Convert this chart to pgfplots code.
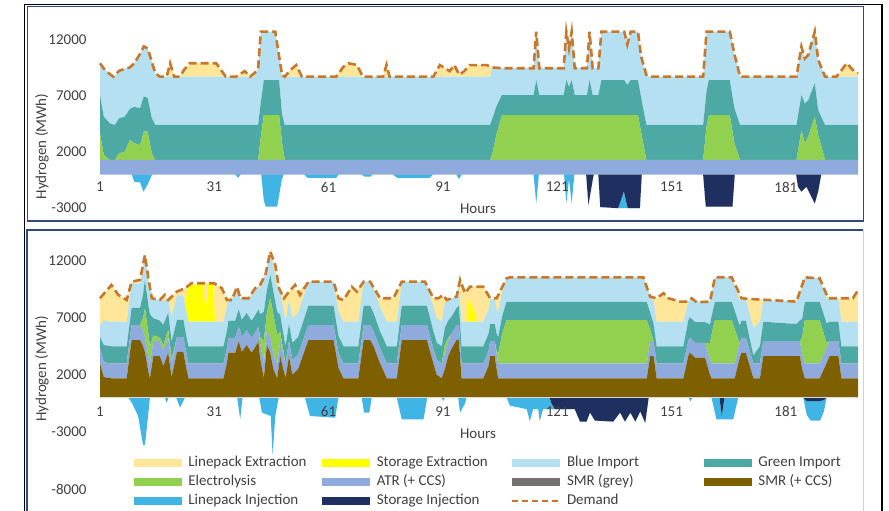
\documentclass[border=0pt]{standalone}
\usepackage{fontspec}
\setmainfont{Carlito}
\usepackage{pgfplots}
\usepackage{pgfplotstable}
\pgfplotsset{compat=1.18}

\definecolor{cLPE}{HTML}{FFE699}
\definecolor{cSE}{HTML}{FFFF00}
\definecolor{cBI}{HTML}{B4E0F2}
\definecolor{cGI}{HTML}{4DA9A4}
\definecolor{cEL}{HTML}{92D050}
\definecolor{cATR}{HTML}{8FAADC}
\definecolor{cSMRg}{HTML}{767171}
\definecolor{cSMR}{HTML}{7F6000}
\definecolor{cLPI}{HTML}{41B4E6}
\definecolor{cSI}{HTML}{1F3060}
\definecolor{cDem}{HTML}{C8782C}
\definecolor{labc}{HTML}{404040}
\definecolor{frm}{HTML}{2F4A80}

\newcommand{\lblfont}{\fontsize{15}{18}\selectfont}

% ---------------- top panel data ----------------
\pgfplotstableread{
h atr el gi bi lpe
1 1280 2370 3400 2820 0
2 1280 440 3400 4280 0
3.6 1280 0 3250 4370 0
4.9 1280 0 3110 4290 0
6 1280 590 3110 4220 0
7.5 1280 740 3100 4250 0
8.8 1280 1770 2750 3700 0
10 1280 1500 3220 3870 0
11.5 1280 1300 3290 4830 0
12.5 1280 2510 3130 4440 0
13.5 1280 2510 3010 4400 0
14.6 1280 590 3130 5000 0
15.5 1280 0 3110 4610 0
16.7 1280 0 3110 4290 0
18.5 1280 0 3110 4290 0
19.4 1280 0 3110 4290 1190
20.5 1280 0 3110 4290 0
22 1280 0 3110 4290 0
23 1280 0 3110 4290 580
24.5 1280 0 3110 4290 1190
31.5 1280 0 3110 4290 1190
34 1280 0 3110 4290 0
36.7 1280 0 3110 4290 0
39 1280 0 3110 4290 490
40.4 1280 0 3110 4290 0
41.5 1280 0 3110 4290 300
42.5 1280 0 3110 5000 0
43.2 1280 2000 3110 6290 0
44 1280 3990 3110 4300 0
47 1280 3990 3110 4300 0
48 1280 3990 3110 2120 0
48.8 1280 1500 2500 3500 0
49.5 1280 0 3110 4290 0
51 1280 0 3110 4290 590
52.5 1280 0 3110 4290 1030
54 1280 0 3110 4290 0
63 1280 0 3110 4290 0
64.9 1280 0 3110 4290 880
66.2 1280 0 3110 4290 1190
68.4 1280 0 3110 4290 1040
70 1280 0 3110 4290 0
75.3 1280 0 3110 4290 0
76.2 1280 0 3110 4290 1040
77 1280 0 3110 4290 0
88.5 1280 0 3110 4290 0
90.2 1280 0 3110 4290 1030
92.8 1280 0 3110 4290 490
94 1280 0 3110 4290 1030
95.3 1280 0 3110 4290 150
96.6 1280 0 3110 4290 490
98 1280 0 3110 4290 1030
102.5 1280 0 3110 4290 1030
103.4 1280 0 3110 4290 880
104 1280 600 3110 4510 0
105 1280 2170 2550 3450 0
106.5 1280 3990 1780 2380 0
114.8 1280 3990 1780 2380 0
115.5 1280 3990 3110 4300 0
116.3 1280 3990 1780 2380 0
122.7 1280 3990 1780 2380 0
123.4 1280 3990 3110 4300 0
124.1 1280 3990 2500 3430 0
124.8 1280 3990 3110 4300 0
125.6 1280 3990 1780 2380 0
128.8 1280 3990 1780 2380 0
129.5 1280 3990 3110 4300 0
130.3 1280 3990 1780 2380 0
131.8 1280 3990 1780 2380 0
132.6 1280 3990 3110 4300 0
138.6 1280 3990 3110 4300 0
139.4 1280 3990 2670 3600 0
140.3 1280 3990 3110 4300 0
142.2 1280 3990 3110 4300 0
143 1280 2500 3110 3610 0
144.4 1280 0 3110 4290 150
145.3 1280 0 3110 4290 0
159.3 1280 0 3110 4290 0
160.2 1280 3000 3110 5290 0
160.8 1280 3990 3110 4300 0
166.3 1280 3990 3110 4300 0
167.5 1280 1500 3110 4810 0
169 1280 0 3110 4290 0
183.8 1280 0 3110 4290 0
185.1 1280 2670 3100 4290 0
186 1280 1480 3540 4000 0
186.9 1280 2080 3240 4000 0
188.6 1280 3850 2960 4590 0
189.5 1280 2220 2200 4470 0
191.3 1280 0 3110 4290 0
194.3 1280 0 3110 4290 0
197 1280 0 3110 4290 1190
199 1280 0 3110 4290 450
200 1280 0 3110 4290 320
}\topPos

\pgfplotstableread{
h si lpi
1 0 0
9.3 0 0
10 0 -650
11.5 0 -700
12.4 0 -1540
13.5 0 -900
14.7 0 0
36.5 0 0
37.2 0 -300
38 0 0
43.3 0 0
44 0 -2300
44.5 0 -2870
47.5 0 -2870
48.7 0 -500
49.2 0 0
54.5 0 0
55.5 0 -300
63 0 -300
63.7 0 0
69.5 0 0
70.5 0 -200
72 0 -200
72.6 0 0
77.8 0 0
79 0 -300
87.5 0 -300
88.5 0 0
94.5 0 0
95.2 0 -400
96 0 0
114.8 0 0
115.5 0 -2560
116.2 0 0
122.8 0 0
123.4 0 -2560
124.1 0 -400
124.8 0 -2560
125.5 0 0
128.6 0 0
129.2 -2700 0
130.3 -500 0
130.6 0 0
131.8 0 0
132.3 -2900 0
137 -3000 0
138.5 -1500 -1500
139.5 -3000 0
142.7 -3000 0
143.2 0 0
159.3 0 0
160 -2870 0
167 -2870 0
167.6 0 0
183.7 0 0
184.2 -1090 0
185.1 -1540 0
186.4 -1090 0
188.6 -2570 0
189.5 -1500 0
190.3 0 0
200 0 0
}\topNeg

\pgfplotstableread{
h d
1 9870
2 9400
3.6 8900
4.5 8680
6 9200
7.5 9370
8.8 9500
10 9870
11.5 10700
12.5 11360
13.5 11200
14.6 10000
15.5 9000
16.7 8680
18.5 8680
19.4 9870
20.5 8680
22 8680
23 9260
24.5 9870
31.5 9870
34 8680
36.7 8680
39 9170
40.4 8680
41.5 8980
42.5 9390
43.2 12680
47 12680
48 10500
48.8 8780
49.5 8680
51 9270
52.5 9710
54 8680
63 8680
64.9 9560
66.2 9870
68.4 9720
70 8680
75.3 8680
76.2 9720
77 8680
88.5 8680
90.2 9710
92.8 9170
94 9710
95.3 8830
96.6 9170
98 9710
102.5 9710
103.4 9560
104 9500
106.5 9430
114.8 9430
115.5 12680
116.3 9430
122.7 9430
123.4 12680
124.1 11200
124.8 12680
125.6 9430
128.8 9430
129.5 12680
130.3 9430
131.8 9430
132.6 12680
138.6 12680
139.4 11540
140.3 12680
142.2 12680
143 10500
144.4 8830
145.3 8680
159.3 8680
160.2 12680
166.3 12680
167.5 10700
169 8680
183.8 8680
185.1 11340
186 10300
186.9 10600
188.6 12680
189.5 10170
191.3 8680
194.3 8680
197 9870
199 9130
200 9000
}\topDem

% ---------------- bottom panel data ----------------
\pgfplotstableread{
h smr atr el gi bi se lpe
1 3000 1300 0 1000 1000 0 2390
2 1800 1300 0 1500 2150 0 2330
4 1690 1300 0 1500 2150 0 3210
5.8 1690 1300 0 1500 2150 0 2340
8 1690 1300 0 1500 2150 0 1900
9.3 5040 1300 0 1500 2150 0 150
11.5 5040 1300 0 1500 2150 0 300
12.3 4500 1300 1200 2000 2150 0 480
12.8 4000 1300 2500 2500 2170 0 0
13.7 2270 1300 2000 2500 2150 0 210
14.1 1690 1300 1500 2800 2370 0 0
15 3640 1300 500 1500 1720 0 0
16.7 3640 1300 300 1500 1800 0 0
17.6 2770 1300 500 1800 2150 0 325
18.9 3930 1300 700 1500 1110 0 0
19.8 1800 1300 300 1500 2150 0 1776
21.2 4000 1300 0 1500 2150 0 320
22.9 4000 1300 0 1500 2150 0 555
23.3 3200 1300 0 1500 2150 0 1410
24.2 1690 1300 0 1500 2150 3153 0
28 1690 1300 0 1500 2150 3360 0
28.7 1690 1300 0 1500 2150 1000 2360
29.4 1690 1300 0 1500 2150 3360 0
30.7 1690 1300 0 1500 2150 3360 0
31.2 1690 1300 0 1500 2150 0 3316
33 1690 1300 0 1500 2150 0 2920
33.4 1690 1300 0 1500 2150 0 2606
34.3 3000 1300 0 1500 2150 0 590
34.7 3930 1300 0 1500 1810 0 0
36.5 3930 1300 0 1500 2150 0 406
37 4500 1300 0 1500 2150 0 250
37.4 4900 1300 0 1500 1495 0 0
37.8 4500 1300 0 1500 1390 0 0
38.2 4000 1300 0 1500 1890 0 0
39.5 4600 1300 0 1500 1290 0 0
40.8 3930 1300 0 1500 2150 0 219
41.7 4400 1300 0 1500 2150 0 210
42.6 4900 1300 0 1500 2061 0 0
43 3500 1300 500 2000 2150 0 400
44 1690 1300 2000 2500 2981 0 0
44.8 4600 1300 1500 2000 1948 0 0
45.7 3930 1300 3500 2000 2030 0 0
46.5 2500 1300 3500 2000 2150 0 596
47.5 1690 1300 2500 2000 2150 0 940
48.3 3640 1300 800 1500 2119 0 0
49.7 1690 1300 0 1500 2150 0 2228
50.6 3640 1300 0 1500 2150 0 680
51.5 2000 1300 0 1500 2150 0 2646
53 2500 1300 0 1500 2150 0 1865
55.7 5040 1300 0 1700 2100 0 0
62.3 5040 1300 0 1700 2100 0 0
63.6 2600 1300 0 1500 2150 0 1140
64.9 1690 1300 0 1500 2150 0 1900
67.1 1690 1300 0 1500 2150 0 3060
68.4 1690 1300 0 1500 2150 0 2630
68.8 1690 1300 0 1500 2150 0 2823
70.2 5040 1300 0 1700 2100 0 0
71.9 5040 1300 0 1700 2100 0 0
72.8 4500 1300 0 1600 2150 0 88
74.5 3000 1300 0 1500 2150 0 740
76.3 1690 1300 0 1500 2150 0 2050
78 1690 1300 0 1500 2150 0 2050
78.9 1690 1300 0 1500 2150 0 2643
80.2 5040 1300 0 1700 2100 0 0
86.3 5040 1300 0 1700 2100 0 0
86.8 5040 1300 0 1700 1770 0 0
88.5 3000 1300 0 1500 2150 0 740
89.4 2000 1300 0 1500 2150 0 1740
90.7 1690 1300 0 1500 2150 0 2251
91.5 2500 1300 800 1500 2150 0 534
92.4 3640 1300 300 1500 1846 0 0
93.3 4300 1300 0 1500 1590 0 0
94.6 5040 1300 0 1500 990 0 0
95.2 5040 1300 0 1700 1763 0 0
95.9 1690 1300 0 1500 2150 0 3293
96.8 1690 1300 0 1500 2150 0 2490
97.2 1690 1300 0 1500 2150 0 2665
97.5 1690 1300 0 1500 2150 2000 797
98.5 1690 1300 0 1500 2150 1500 1560
99.5 1690 1300 0 1500 2150 700 2360
100 1690 1300 0 1500 2150 0 3060
101.6 1690 1300 0 1500 2150 0 3060
103 2800 1300 0 1500 2150 0 1164
103.4 3640 1300 0 1500 2150 0 100
104.6 3640 1300 0 1500 2150 0 100
105.1 2500 1300 300 1500 2150 0 940
105.5 1690 1300 800 1500 2150 0 1518
106.5 1690 1300 2500 1550 2150 0 437
107.7 1690 1300 3790 1600 2050 0 0
108.6 1690 1300 3790 1600 2140 0 0
143.6 1690 1300 3790 1600 2140 0 0
144.5 1690 1300 3790 1600 1295 0 0
145.4 3640 1300 1000 1500 1390 0 0
146.3 3640 1300 0 1500 2150 0 166
147.1 1690 1300 0 1500 2150 0 2050
148.9 1690 1300 0 1500 2150 0 2490
150.2 1690 1300 0 1500 2150 0 2050
153.2 1690 1300 0 1500 2150 0 1760
154.1 1690 1300 0 1500 2150 0 1760
155.4 3640 1300 0 1800 1660 0 0
155.8 3930 1300 0 1800 1499 0 0
157.2 3500 1300 0 1800 1848 0 0
159.8 3500 1300 0 1800 1778 0 0
161.1 2000 1300 1500 1600 2000 0 0
161.5 1690 1300 2500 1600 1962 0 0
162.4 1690 1300 3790 1600 2140 0 0
166.8 1690 1300 3790 1600 2140 0 0
167.6 1690 1300 3000 1600 2150 0 217
168.9 3500 1300 0 1500 2150 0 592
169.4 3930 1300 0 1500 1960 0 0
170.5 3930 1300 0 1500 1930 0 0
172.5 1690 1300 0 700 2400 0 2523
174.2 1690 1300 0 1500 2150 0 1941
175.1 3640 1300 0 1700 1924 0 0
183.8 3640 1300 0 1500 1960 0 0
184.7 3640 1300 0 1800 2150 0 377
185.3 2500 1300 1500 1600 2945 0 0
186 1690 1300 3790 1600 2140 0 0
189.9 1690 1300 3790 1600 2050 0 0
191.7 3000 1300 500 1700 2150 0 356
192.5 3640 1300 0 1700 2050 0 0
194.8 3640 1300 0 1700 2050 0 0
195.6 1690 1300 0 1500 2150 0 2050
198.6 1690 1300 0 1500 2150 0 2050
200 1690 1300 0 1500 2150 0 2780
}\botPos

\pgfplotstableread{
h si lpi
1 0 0
8.4 0 0
9.3 0 -400
11 0 -1600
12.3 0 -4130
12.8 0 -4130
13.7 0 -1300
14.1 0 0
18 0 0
18.5 0 -440
19 0 0
21 0 0
22 0 -870
23.3 0 0
37 0 0
37.8 0 -1890
38.4 0 0
42.8 0 0
43.5 0 -1300
45.8 0 -1600
46.3 0 -5000
47 0 -1600
47.9 0 0
54.8 0 0
56.1 0 -1600
62.7 0 -1750
63.6 0 0
69.7 0 0
70.3 0 -1300
71.7 0 -1300
72.3 0 0
78.9 0 0
80.2 0 -1890
85.9 0 -1890
86.9 0 0
90.7 0 0
91.1 0 -300
91.5 0 0
95 0 0
95.5 0 -1300
96.8 0 -500
97.2 0 0
107.7 0 0
108.6 0 -700
113 0 -1000
113.8 0 -2040
114.7 0 -1000
116 0 -1000
116.4 0 -2040
117.3 0 -1000
119 0 -1000
119.5 -500 -500
120.4 -1000 0
125.6 -1000 0
127 -2090 0
128.7 -2090 0
129.6 -1300 0
130.9 -2000 0
135.7 -2090 0
137.5 -1300 0
138.8 -2090 0
140.2 -1300 0
141.5 -2090 0
142.8 -1200 0
144.1 -2200 0
145 0 0
155.5 0 0
156 0 -300
156.5 0 0
161.5 0 0
162.8 0 -1900
163.6 0 -1900
164.2 -1600 -300
164.9 0 -1900
167.2 0 -1900
168.5 0 0
185.6 0 0
186.5 -300 -1200
187.5 -300 -1700
190 -300 -1700
191 -200 -1000
191.7 0 0
200 0 0
}\botNeg

\pgfplotstableread{
h d
1 8690
4 9850
5.8 8980
8 8540
9.3 10140
11.5 10290
12.8 12470
13.7 10430
14.6 8690
16.7 8540
18 8980
18.9 8540
21.2 9270
23.3 9560
25 10000
31 10000
33 9560
34.3 8540
35.6 8540
37 9700
37.8 8690
40 8690
41.7 9560
43 9850
44.4 10720
45.7 12760
47 11600
48 9560
49.3 8690
50.6 9270
52.2 9850
53.5 8980
55.7 10140
62.3 10140
63.6 8690
64.9 8540
67.1 9700
68.4 9270
70.2 10140
71.9 10140
74.5 8690
78 8690
80.2 10140
86.3 10140
88.5 8690
89.8 8690
91.1 8980
92 8540
93.3 8690
94.6 8830
95.5 10290
96.8 9130
98.1 9700
101.6 9700
103.4 8690
105.1 8690
107.7 10430
108.6 10520
143.6 10520
145.4 8830
147.1 8690
148.9 9130
150.2 8690
153.2 8400
155.4 8400
156.3 8690
157.6 8340
161.1 8400
162.4 10520
166.8 10520
169.4 8690
171.6 8630
183.8 8400
186 10520
189.9 10430
192.1 8690
198.6 8690
200 9420
}\botDem

\pgfplotsset{
  panel/.style={scale only axis, width=758.19pt, xmin=1, xmax=200,
    anchor=south west, clip=false},
  stackaxis/.style={panel, hide axis, stack plots=y},
  ar/.style={draw=none, fill=#1, mark=none},
  sw/.style={legend image code/.code={\fill[#1] (0pt,-3.5pt) rectangle (47pt,3.5pt);}},
  dem/.style={color=cDem, line width=2.6pt, dash pattern=on 8pt off 4pt, mark=none},
  deco/.style={panel, axis x line*=middle, axis y line*=left,
    axis line style={draw=none}, tick style={draw=none}, major tick length=0pt,
    hide obscured x ticks=false, hide obscured y ticks=false,
    xtick={1,31,61,91,121,151,181}, xticklabels={1,31,61,91,121,151,181},
    scaled y ticks=false,
    tick label style={font=\lblfont, text=labc},
    yticklabel style={xshift=-10pt},
    xlabel={Hours}, ylabel={Hydrogen (MWh)},
    label style={font=\lblfont, text=labc}},
}

\begin{document}
\begin{tikzpicture}[x=1pt,y=1pt]
\path[use as bounding box] (0pt,0pt) rectangle (889pt,511pt);
\fill[white] (0pt,0pt) rectangle (889pt,511pt);

% ===== top panel =====
\begin{axis}[stackaxis, at={(100pt,302.82pt)}, height=180.16pt, ymin=-3000, ymax=13000]
\addplot[ar=cSI] table[x=h,y=si]{\topNeg} \closedcycle;
\addplot[ar=cLPI] table[x=h,y=lpi]{\topNeg} \closedcycle;
\end{axis}
\begin{axis}[stackaxis, at={(100pt,302.82pt)}, height=180.16pt, ymin=-3000, ymax=13000]
\addplot[ar=cATR] table[x=h,y=atr]{\topPos} \closedcycle;
\addplot[ar=cEL] table[x=h,y=el]{\topPos} \closedcycle;
\addplot[ar=cGI] table[x=h,y=gi]{\topPos} \closedcycle;
\addplot[ar=cBI] table[x=h,y=bi]{\topPos} \closedcycle;
\addplot[ar=cLPE] table[x=h,y=lpe]{\topPos} \closedcycle;
\end{axis}
\begin{axis}[deco, at={(100pt,302.82pt)}, height=180.16pt, ymin=-3000, ymax=13000,
  ytick={-3000,2000,7000,12000}, yticklabels={-3000,2000,7000,12000},
  xticklabel style={yshift=-4pt},
  every axis x label/.style={at={(axis description cs:0.4986,-0.0044)}, anchor=center, font=\lblfont, text=labc},
  every axis y label/.style={at={(axis description cs:-0.0765,0.342)}, rotate=90, anchor=center, font=\lblfont, text=labc}]
\addplot[dem] table[x=h,y=d]{\topDem};
\end{axis}

% ===== bottom panel =====
\begin{axis}[stackaxis, at={(100pt,21.8pt)}, height=240.24pt, ymin=-8000, ymax=13000]
\addplot[ar=cSI] table[x=h,y=si]{\botNeg} \closedcycle;
\addplot[ar=cLPI] table[x=h,y=lpi]{\botNeg} \closedcycle;
\end{axis}
\begin{axis}[stackaxis, at={(100pt,21.8pt)}, height=240.24pt, ymin=-8000, ymax=13000]
\addplot[ar=cSMR] table[x=h,y=smr]{\botPos} \closedcycle;
\addplot[ar=cATR] table[x=h,y=atr]{\botPos} \closedcycle;
\addplot[ar=cEL] table[x=h,y=el]{\botPos} \closedcycle;
\addplot[ar=cGI] table[x=h,y=gi]{\botPos} \closedcycle;
\addplot[ar=cBI] table[x=h,y=bi]{\botPos} \closedcycle;
\addplot[ar=cSE] table[x=h,y=se]{\botPos} \closedcycle;
\addplot[ar=cLPE] table[x=h,y=lpe]{\botPos} \closedcycle;
\end{axis}
\begin{axis}[deco, at={(100pt,21.8pt)}, height=240.24pt, ymin=-8000, ymax=13000,
  x axis line style={draw=black!15, line width=0.8pt},
  ytick={-8000,-3000,2000,7000,12000}, yticklabels={-8000,-3000,2000,7000,12000},
  xticklabel style={yshift=-5.5pt},
  every axis x label/.style={at={(axis description cs:0.4986,0.2298)}, anchor=center, font=\lblfont, text=labc},
  every axis y label/.style={at={(axis description cs:-0.0765,0.5004)}, rotate=90, anchor=center, font=\lblfont, text=labc},
  legend columns=4,
  legend cell align=left,
  legend style={at={(axis description cs:0.04484,0.1403)}, anchor=north west,
    draw=none, fill=none, inner sep=0pt, outer sep=0pt,
    font=\lblfont, text=labc, row sep=4pt,
    nodes={inner sep=0pt, text height=11pt, text depth=4pt},
    /tikz/every odd column/.append style={column sep=7pt}}]
\addplot[dem, forget plot] table[x=h,y=d]{\botDem};
\addlegendimage{sw=cLPE}\addlegendentry{\makebox[134pt][l]{Linepack Extraction}}
\addlegendimage{sw=cSE}\addlegendentry{\makebox[134pt][l]{Storage Extraction}}
\addlegendimage{sw=cBI}\addlegendentry{\makebox[137pt][l]{Blue Import}}
\addlegendimage{sw=cGI}\addlegendentry{\makebox[110pt][l]{Green Import}}
\addlegendimage{sw=cEL}\addlegendentry{\makebox[134pt][l]{Electrolysis}}
\addlegendimage{sw=cATR}\addlegendentry{\makebox[134pt][l]{ATR (+ CCS)}}
\addlegendimage{sw=cSMRg}\addlegendentry{\makebox[137pt][l]{SMR (grey)}}
\addlegendimage{sw=cSMR}\addlegendentry{\makebox[110pt][l]{SMR (+ CCS)}}
\addlegendimage{sw=cLPI}\addlegendentry{\makebox[134pt][l]{Linepack Injection}}
\addlegendimage{sw=cSI}\addlegendentry{\makebox[134pt][l]{Storage Injection}}
\addlegendimage{legend image code/.code={\draw[cDem, line width=2.2pt, dash pattern=on 6pt off 4pt] (0pt,0pt) -- (47pt,0pt);}}\addlegendentry{\makebox[137pt][l]{Demand}}
\end{axis}

% ===== frames =====
\draw[frm, line width=0.9pt] (27pt,290pt) rectangle (863pt,505pt);
\draw[frm, line width=1.2pt] (27pt,290pt) -- (863pt,290pt);
\draw[frm, line width=1.1pt] (27pt,-2pt) -- (27pt,281pt) -- (863pt,281pt);
\draw[gray!35, line width=0.8pt] (863pt,-2pt) -- (863pt,281pt);
\draw[black, line width=1.6pt] (24.5pt,-2pt) -- (24.5pt,506.5pt) -- (882pt,506.5pt) -- (882pt,-2pt);
\end{tikzpicture}
\end{document}
